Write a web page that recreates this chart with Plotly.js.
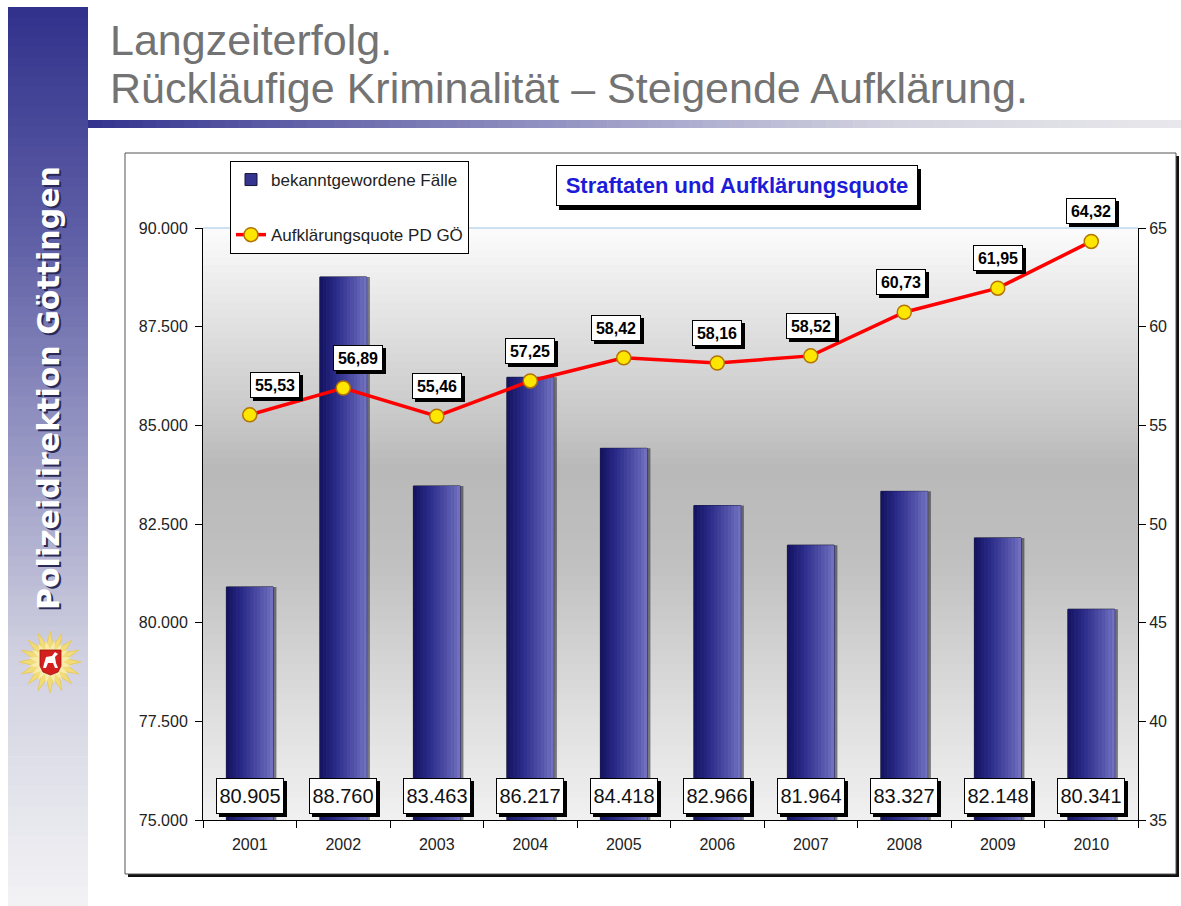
<!DOCTYPE html>
<html>
<head>
<meta charset="utf-8">
<script src="https://cdn.plot.ly/plotly-3.0.1.min.js"></script>
<style>
html,body{margin:0;padding:0;background:#ffffff;}
#chart{width:1181px;height:906px;}
</style>
</head>
<body>
<div id="chart"></div>
<script>
// ---------------- data ----------------
const years = ['2001','2002','2003','2004','2005','2006','2007','2008','2009','2010'];
const cases = [80905, 88760, 83463, 86217, 84418, 82966, 81964, 83327, 82148, 80341];
const clearanceRate = [55.53, 56.89, 55.46, 57.25, 58.42, 58.16, 58.52, 60.73, 61.95, 64.32];
const leftTicks = [75000, 77500, 80000, 82500, 85000, 87500, 90000];
const rightTicks = [35, 40, 45, 50, 55, 60, 65];
const seriesNames = ['bekanntgewordene Fälle', 'Aufklärungsquote PD GÖ'];
const chartTitle = 'Straftaten und Aufklärungsquote';
const slideTitle1 = 'Langzeiterfolg.';
const slideTitle2 = 'Rückläufige Kriminalität – Steigende Aufklärung.';
const sideText = 'Polizeidirektion Göttingen';

// ---------------- geometry helpers (styling only) ----------------
const W = 1181, H = 906;
const L = 203, R = 1138, T = 228, B = 820;
const px = x => (x - L) / (R - L);
const py = y => (B - y) / (B - T);
const FONT = '"Liberation Sans", Arial, sans-serif';
// horizontal nudges (px) of the rate labels, as placed in the original slide
const rateLabelNudge = [25, 15, 0, 0, -8, 0, 0, -3, 0, 0];

function hex2rgb(h){ h=h.replace('#',''); return [parseInt(h.substr(0,2),16),parseInt(h.substr(2,2),16),parseInt(h.substr(4,2),16)]; }
function colorAt(stops, v){
  if (v <= stops[0][0]) return stops[0][1];
  for (let i=1;i<stops.length;i++){
    if (v <= stops[i][0]){
      const t = (v - stops[i-1][0])/(stops[i][0]-stops[i-1][0]);
      const a = hex2rgb(stops[i-1][1]), b = hex2rgb(stops[i][1]);
      const c = a.map((q,k)=>Math.round(q+(b[k]-q)*t));
      return 'rgb('+c.join(',')+')';
    }
  }
  return stops[stops.length-1][1];
}
function rectPx(x0,y0,x1,y1,fill,lineColor,lineWidth){
  return {type:'rect', xref:'paper', yref:'paper', layer:'below',
    x0:px(x0), x1:px(x1), y0:py(y1), y1:py(y0),
    fillcolor:fill, line:{width:lineWidth||0, color:lineColor||fill}};
}
function vBands(x0,x1,y0,y1,stops,n){
  const out=[];
  for(let i=0;i<n;i++){
    const ya=y0+(y1-y0)*i/n, yb=y0+(y1-y0)*(i+1)/n;
    out.push(rectPx(x0,ya,x1,Math.min(y1,yb+0.7),colorAt(stops,(ya+yb)/2)));
  }
  return out;
}
function hBands(x0,x1,y0,y1,stops,n){
  const out=[];
  for(let i=0;i<n;i++){
    const xa=x0+(x1-x0)*i/n, xb=x0+(x1-x0)*(i+1)/n;
    out.push(rectPx(xa,y0,Math.min(x1,xb+0.7),y1,colorAt(stops,(xa+xb)/2)));
  }
  return out;
}
function pathPx(points, fill, lineColor, lw){
  const d = points.map((p,i)=>(i?'L':'M')+px(p[0]).toFixed(5)+','+py(p[1]).toFixed(5)).join(' ')+' Z';
  return {type:'path', xref:'paper', yref:'paper', layer:'above', path:d, fillcolor:fill, line:{color:lineColor||fill, width:lw||0}};
}

// ---------------- shapes ----------------
let shapes = [];
// sidebar gradient
shapes = shapes.concat(vBands(8, 88, 7, 906, [[7,'#31318c'],[250,'#6262a8'],[450,'#9898c4'],[650,'#cfcfe0'],[906,'#f3f3f5']], 90));
// title underline gradient
shapes = shapes.concat(hBands(88, 1181, 120, 128, [[88,'#33338e'],[350,'#6c6cae'],[650,'#a6a6cc'],[900,'#d4d4e0'],[1181,'#e8e8ec']], 80));
// chart frame with shadow
shapes.push(rectPx(128,156,1179,877,'#111111'));
shapes.push(rectPx(125,153,1176,874,'#ffffff','#555555',1));
// plot area gradient
shapes = shapes.concat(vBands(L, R, T, B, [[T,'#fcfcfc'],[320,'#e2e2e2'],[470,'#b9b9b9'],[560,'#c0c0c0'],[700,'#dcdcdc'],[B,'#f1f1f1']], 80));
// top border line of the plot area
shapes.push({type:'line', xref:'paper', yref:'paper', layer:'below', x0:0, x1:1, y0:1, y1:1, line:{color:'#9dc6ea', width:1.2}});
// police star logo
(function(){
  const cx=50, cy=662, ro=31, ri=17, n=16, pts=[];
  for(let i=0;i<2*n;i++){
    const r = i%2===0 ? ro : ri;
    const a = Math.PI*i/n - Math.PI/2;
    pts.push([cx + r*Math.cos(a), cy + r*Math.sin(a)]);
  }
  shapes.push(pathPx(pts,'#f2dc7a','#e8c850',0.8));
  const inner=[];
  for(let i=0;i<2*n;i++){
    const r = i%2===0 ? 22 : 13;
    const a = Math.PI*i/n - Math.PI/2 + Math.PI/n;
    inner.push([cx + r*Math.cos(a), cy + r*Math.sin(a)]);
  }
  shapes.push(pathPx(inner,'#f7ecaa','#f7ecaa',0));
  shapes.push(pathPx([[40,650],[61,650],[61,666],[58,672],[50.5,675],[43,672],[40,666]],'#d41f1f','#a01010',0.8));
  shapes.push(pathPx([[44,664],[46,657],[52,656],[55,652],[58,654],[55,657],[56,663],[58,668],[55,668],[53,663],[48,663],[46,668],[43,668]],'#ffffff','#ffffff',0));
})();

// ---------------- traces ----------------
const traces = [];
// bar shadow
traces.push({type:'bar', x:years, y:cases, width:0.5, offset:-0.25+0.035,
  marker:{color:'rgba(30,30,40,0.55)', line:{width:0}}, showlegend:false, hoverinfo:'skip', yaxis:'y', xaxis:'x'});
// main bar trace (carries legend)
traces.push({type:'bar', name:seriesNames[0], x:years, y:cases, width:0.5, offset:-0.25,
  marker:{color:'#35358f', line:{color:'#15153a', width:1}}, legendgroup:'g1', yaxis:'y', xaxis:'x',
  hovertemplate:'%{x}: %{y:,d}<extra></extra>'});
// gradient stripes on top of the bars
const NS = 14;
const stripeStops = [[0,'#12125f'],[0.35,'#2b2b8a'],[0.75,'#5656ac'],[1,'#7474c2']];
for(let i=0;i<NS;i++){
  const w = 0.5/NS;
  traces.push({type:'bar', x:years, y:cases, width:w*1.05, offset:-0.25 + i*w,
    marker:{color:colorAt(stripeStops,(i+0.5)/NS), line:{width:0}}, showlegend:false, hoverinfo:'skip', yaxis:'y', xaxis:'x'});
}
// clearance rate line
traces.push({type:'scatter', mode:'lines+markers', name:seriesNames[1], x:years, y:clearanceRate,
  yaxis:'y2', xaxis:'x', legendgroup:'g2',
  line:{color:'#ff0000', width:3.5},
  marker:{symbol:'circle', size:14, color:'#ffe600', line:{color:'#b37400', width:1.5}},
  hovertemplate:'%{x}: %{y:.2f}<extra></extra>'});

// ---------------- annotations ----------------
const annotations = [];
function pAnn(x,y,text,opts){
  return Object.assign({xref:'paper', yref:'paper', x:px(x), y:py(y), text:text, showarrow:false}, opts);
}
// slide titles
annotations.push(pAnn(108, 40, slideTitle1, {xanchor:'left', yanchor:'middle', font:{family:FONT, size:43, color:'#737373'}}));
annotations.push(pAnn(108, 88, slideTitle2, {xanchor:'left', yanchor:'middle', font:{family:FONT, size:43, color:'#737373'}}));
// sidebar text (shadow + text)
annotations.push(pAnn(50, 390, sideText, {textangle:-90, xanchor:'center', yanchor:'middle', font:{family:'"DejaVu Sans", sans-serif', size:30, color:'#2a2a55', weight:'bold'}}));
annotations.push(pAnn(48, 388, sideText, {textangle:-90, xanchor:'center', yanchor:'middle', font:{family:'"DejaVu Sans", sans-serif', size:30, color:'#ffffff', weight:'bold'}}));
// chart title box with shadow (shadow box carries no text)
annotations.push(pAnn(740, 189, ' ', {xanchor:'center', yanchor:'middle', width:358, height:37,
  bgcolor:'#000000', bordercolor:'#000000', borderwidth:1, font:{family:FONT, size:22, color:'#000000'}}));
annotations.push(pAnn(737, 186, chartTitle, {xanchor:'center', yanchor:'middle', width:358, height:37,
  bgcolor:'#ffffff', bordercolor:'#000000', borderwidth:1, font:{family:FONT, size:22, color:'#1c1cd8', weight:'bold'}}));

const fmtThousands = n => String(n).replace(/\B(?=(\d{3})+(?!\d))/g, '.');
const fmtRate = v => v.toFixed(2).replace('.', ',');
// line value labels (x given as category index)
years.forEach((yr,i)=>{
  const base = {xref:'x', yref:'y2', x:i, y:clearanceRate[i], showarrow:false, xanchor:'center', yanchor:'middle',
    width:46, height:22, borderwidth:1};
  annotations.push(Object.assign({}, base, {text:' ', xshift:rateLabelNudge[i]+3, yshift:27, bgcolor:'#000000', bordercolor:'#000000',
    font:{family:FONT, size:16, color:'#000000', weight:'bold'}}));
  annotations.push(Object.assign({}, base, {text:fmtRate(clearanceRate[i]), xshift:rateLabelNudge[i], yshift:30, bgcolor:'#ffffff', bordercolor:'#000000',
    font:{family:FONT, size:16, color:'#000000', weight:'bold'}}));
});
// bar value labels
years.forEach((yr,i)=>{
  const base = {xref:'x', yref:'y', x:i, y:leftTicks[0], showarrow:false, xanchor:'center', yanchor:'bottom',
    width:64, height:32, borderwidth:1};
  annotations.push(Object.assign({}, base, {text:' ', xshift:3, yshift:3, bgcolor:'#000000', bordercolor:'#000000',
    font:{family:FONT, size:20, color:'#000000'}}));
  annotations.push(Object.assign({}, base, {text:fmtThousands(cases[i]), xshift:0, yshift:6, bgcolor:'#ffffff', bordercolor:'#000000',
    font:{family:FONT, size:20, color:'#111111'}}));
});

// ---------------- layout ----------------
const layout = {
  width: W, height: H,
  margin: {l:L, r:W-R, t:T, b:H-B, pad:0},
  paper_bgcolor:'#ffffff', plot_bgcolor:'rgba(0,0,0,0)',
  separators: ',.',
  barmode:'overlay',
  showlegend:true,
  legend:{x:px(230), y:py(161), xanchor:'left', yanchor:'top', bgcolor:'#ffffff', bordercolor:'#000000', borderwidth:1,
    font:{family:FONT, size:17, color:'#222222'}, traceorder:'grouped', tracegroupgap:30, itemwidth:30},
  xaxis:{type:'category', range:[-0.5, 9.5], tickson:'boundaries', ticks:'outside', ticklen:7, tickcolor:'#000000',
    showline:true, linecolor:'#000000', linewidth:1, showgrid:false, zeroline:false, ticklabelstandoff:10,
    tickfont:{family:FONT, size:16, color:'#222222'}, fixedrange:true},
  yaxis:{range:[leftTicks[0], leftTicks[leftTicks.length-1]], tickvals:leftTicks, tickformat:',d', ticks:'outside', ticklen:7,
    tickcolor:'#000000', showline:true, linecolor:'#000000', linewidth:1, showgrid:false, zeroline:false,
    tickfont:{family:FONT, size:16, color:'#222222'}, ticklabelstandoff:4, fixedrange:true},
  yaxis2:{overlaying:'y', side:'right', range:[rightTicks[0], rightTicks[rightTicks.length-1]], tickvals:rightTicks,
    ticks:'outside', ticklen:7, tickcolor:'#000000', showline:true, linecolor:'#000000', linewidth:1, showgrid:false, zeroline:false,
    tickfont:{family:FONT, size:16, color:'#222222'}, fixedrange:true},
  shapes: shapes,
  annotations: annotations
};

Plotly.newPlot('chart', traces, layout, {displayModeBar:false, staticPlot:false});
</script>
</body>
</html>
